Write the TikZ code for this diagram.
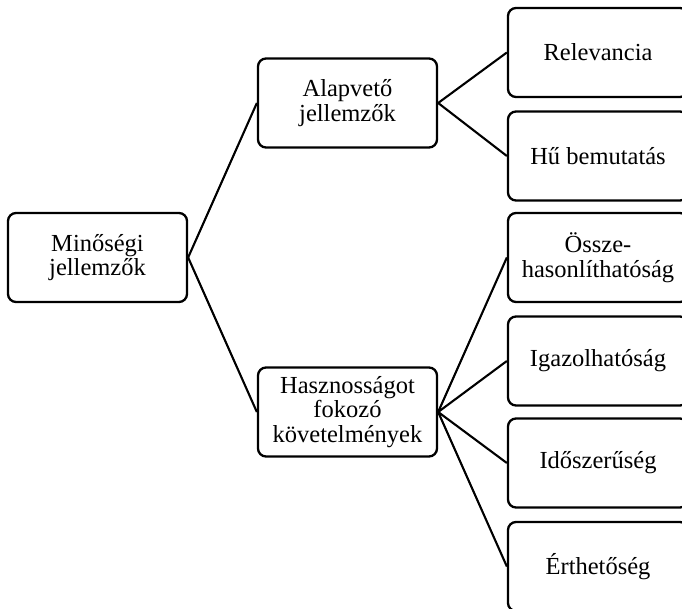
\documentclass[tikz,border=0pt]{standalone}
\usepackage{fontspec}
\setmainfont{Liberation Serif}
\begin{document}
\begin{tikzpicture}[x=1pt,y=-1pt,
  box/.style={draw=black, line width=2.3pt, rounded corners=8pt, fill=white,
    minimum height=89pt, inner sep=0pt, align=center,
    font=\fontsize{24.5}{24.5}\selectfont},
  midbox/.style={box, minimum width=179pt},
  leafbox/.style={box, minimum width=180pt},
  link/.style={draw=black, line width=2.1pt}]
\useasboundingbox (0,0) rectangle (682,609);
\clip (0,0) rectangle (682,609);
\fill[white] (0,0) rectangle (682,609);
\node[midbox] (root) at (97.5,257.5) {Minőségi\\jellemzők};
\node[midbox] (alap) at (347.5,103) {Alapvető\\jellemzők};
\node[midbox] (hasz) at (347.5,412) {Hasznosságot\\fokozó\\követelmények};
\node[leafbox] (rel) at (598,52.5) {Relevancia};
\node[leafbox] (hu) at (598,156) {Hű bemutatás};
\node[leafbox] (ossz) at (598,257.5) {Össze-\\hasonlíthatóság};
\node[leafbox] (igaz) at (598,361) {Igazolhatóság};
\node[leafbox] (ido) at (598,463) {Időszerűség};
\node[leafbox] (erth) at (598,566.5) {Érthetőség};
\draw[link] (root.east) -- (alap.west);
\draw[link] (root.east) -- (hasz.west);
\draw[link] (alap.east) -- (rel.west);
\draw[link] (alap.east) -- (hu.west);
\draw[link] (hasz.east) -- (ossz.west);
\draw[link] (hasz.east) -- (igaz.west);
\draw[link] (hasz.east) -- (ido.west);
\draw[link] (hasz.east) -- (erth.west);
\end{tikzpicture}
\end{document}
